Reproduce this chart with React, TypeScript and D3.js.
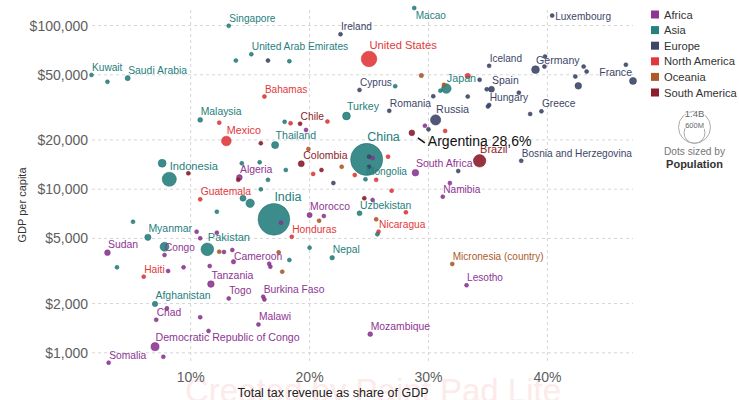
import { useRef, useEffect } from 'react'
import * as d3 from 'd3'

const font = '"Liberation Sans", Arial, Helvetica, sans-serif'

const continents = ['Africa', 'Asia', 'Europe', 'North America', 'Oceania', 'South America']
const continentColors = ['#8e3593', '#26807d', '#3d4668', '#e2383a', '#ad5a2a', '#8e1c2b']

// [country, tax revenue (% of GDP), GDP per capita ($), population (millions)]
// empty name = dot without a label
const africa: [string, number, number, number][] = [
  ['Sudan', 3.0, 4090, 44],
  ['Somalia', 3.1, 870, 16],
  ['Democratic Republic of Congo', 7.0, 1090, 90],
  ['', 7.7, 945, 5],
  ['Chad', 7.1, 1590, 16],
  ['', 8.0, 1870, 5],
  ['Congo', 7.8, 3960, 5.5],
  ['', 8.1, 3160, 5],
  ['', 9.4, 3330, 5],
  ['', 10.5, 5500, 5],
  ['', 10.8, 5010, 4],
  ['', 12.2, 5420, 5],
  ['', 12.8, 4130, 8],
  ['', 13.5, 4250, 20],
  ['Cameroon', 13.6, 3600, 27],
  ['', 11.6, 3390, 12],
  ['Tanzania', 11.7, 2630, 60],
  ['Togo', 13.2, 2150, 8],
  ['', 10.8, 1650, 22],
  ['', 11.5, 1360, 10],
  ['Burkina Faso', 16.1, 2200, 21],
  ['', 16.2, 2120, 10],
  ['Malawi', 15.7, 1490, 19],
  ['Mozambique', 25.1, 1300, 31],
  ['Lesotho', 33.2, 2590, 2.1],
  ['', 16.6, 3500, 5],
  ['', 16.7, 3360, 5],
  ['Morocco', 20.0, 6950, 37],
  ['', 21.2, 6850, 5],
  ['Algeria', 14.1, 11800, 44],
  ['', 25.3, 15500, 5],
  ['South Africa', 28.9, 12600, 60],
  ['Namibia', 31.2, 9000, 2.5],
  ['', 31.8, 10900, 2],
  ['', 25.3, 8590, 5],
  ['', 19.7, 23000, 1],
  ['', 29.7, 24400, 1.3],
  ['', 17.6, 6240, 5],
]

const asia: [string, number, number, number][] = [
  ['Kuwait', 1.66, 49900, 4.3],
  ['', 3.0, 45300, 5],
  ['Saudi Arabia', 4.7, 47700, 35],
  ['Singapore', 13.2, 99600, 5.7],
  ['', 13.8, 61100, 3],
  ['United Arab Emirates', 15.1, 66800, 9.9],
  ['', 18.3, 60600, 3],
  ['Macao', 28.8, 128000, 0.7],
  ['Malaysia', 10.8, 26500, 33],
  ['Thailand', 17.1, 18600, 70],
  ['', 17.9, 25800, 3],
  ['Turkey', 23.1, 28000, 84],
  ['', 27.2, 42600, 9],
  ['Japan', 31.5, 41200, 126],
  ['', 31.0, 40000, 5],
  ['China', 24.8, 15200, 1410],
  ['Mongolia', 24.7, 11500, 3.3],
  ['', 7.6, 14400, 85],
  ['Indonesia', 8.2, 11500, 274],
  ['', 14.3, 14400, 5],
  ['', 15.8, 14600, 5],
  ['', 18.0, 13100, 5],
  ['', 16.5, 11400, 5],
  ['', 15.9, 9980, 5],
  ['', 14.4, 8800, 50],
  ['', 15.0, 8200, 97],
  ['', 7.8, 4450, 110],
  ['Pakistan', 11.4, 4290, 220],
  ['Myanmar', 6.4, 5080, 54],
  ['', 5.15, 6320, 5],
  ['', 12.2, 7280, 5],
  ['', 3.8, 3330, 5],
  ['Afghanistan', 7.0, 1990, 39],
  ['Uzbekistan', 24.2, 7120, 34],
  ['', 25.7, 5300, 5],
  ['Nepal', 21.9, 3810, 29],
  ['', 20.0, 4390, 5],
  ['', 18.3, 3690, 5],
  ['India', 17.0, 6540, 1380],
]

const europe: [string, number, number, number][] = [
  ['Ireland', 22.6, 88500, 5],
  ['', 16.5, 61100, 3],
  ['Luxembourg', 40.4, 115000, 0.6],
  ['Iceland', 35.1, 56700, 0.4],
  ['Germany', 39.0, 53800, 83],
  ['', 39.8, 64600, 5],
  ['', 39.75, 56100, 5],
  ['', 43.05, 56100, 5],
  ['', 43.3, 52300, 5],
  ['', 46.6, 57600, 5],
  ['France', 47.2, 45900, 67],
  ['', 42.35, 48800, 5],
  ['', 42.6, 42800, 60],
  ['Spain', 35.3, 40800, 47],
  ['', 34.9, 40800, 5],
  ['', 37.6, 38900, 5],
  ['Hungary', 35.1, 32700, 9.7],
  ['', 35.0, 32000, 5],
  ['Greece', 39.5, 29900, 10.7],
  ['', 38.55, 28800, 5],
  ['', 34.3, 46600, 5],
  ['', 30.4, 37000, 5],
  ['', 33.3, 36800, 5],
  ['Cyprus', 24.2, 40400, 1.2],
  ['Romania', 26.7, 30100, 19],
  ['Russia', 30.6, 26500, 145],
  ['', 30.0, 23200, 5],
  ['', 32.5, 12900, 5],
  ['Bosnia and Herzegovina', 37.8, 14900, 3.3],
  ['', 22.0, 10900, 5],
  ['', 25.0, 15800, 5],
  ['', 25.0, 13700, 5],
]

const northAmerica: [string, number, number, number][] = [
  ['United States', 25.0, 62500, 331],
  ['Bahamas', 16.2, 36800, 0.4],
  ['', 12.4, 25500, 4],
  ['Mexico', 13.0, 19700, 128],
  ['', 18.4, 25300, 5],
  ['', 21.5, 25900, 5],
  ['', 33.3, 49200, 38],
  ['', 31.4, 22700, 5],
  ['', 28.1, 7220, 5],
  ['', 26.6, 15800, 5],
  ['', 23.8, 12200, 5],
  ['', 25.6, 11400, 5],
  ['', 20.3, 12400, 5],
  ['', 26.9, 9790, 5],
  ['Guatemala', 10.8, 8670, 17],
  ['Honduras', 18.5, 5120, 10],
  ['Nicaragua', 25.8, 5500, 6.6],
  ['Haiti', 6.05, 2920, 11],
]

const oceania: [string, number, number, number][] = [
  ['', 29.4, 49500, 26],
  ['', 31.3, 43400, 5],
  ['', 19.9, 17600, 1],
  ['', 22.7, 13700, 1],
  ['', 20.8, 6410, 1],
  ['', 25.6, 6540, 1],
  ['', 12.4, 4150, 1],
  ['', 17.4, 4110, 1],
  ['', 17.7, 3130, 1],
  ['Micronesia (country)', 32.0, 3490, 0.1],
]

const southAmerica: [string, number, number, number][] = [
  ['Chile', 19.2, 25100, 19],
  ['Argentina', 28.6, 22100, 45],
  ['', 15.9, 19100, 5],
  ['Colombia', 19.3, 14300, 51],
  ['', 21.0, 13100, 5],
  ['Brazil', 34.3, 14900, 213],
  ['', 14.0, 11400, 5],
  ['', 9.8, 12500, 3],
  ['', 24.6, 8800, 5],
]

const seriesByContinent = [africa, asia, europe, northAmerica, oceania, southAmerica]

const xTicks = [10, 20, 30, 40]
const yTicks = [1000, 2000, 5000, 10000, 20000, 50000, 100000]

const highlighted = 'Argentina'
const highlightText = 'Argentina 28,6%'

// label tweaks: [dx, dy, anchor]
const labelNudges: Record<string, [number, number, string]> = {
  Macao: [1, 14.5, 'start'],
  Luxembourg: [2.5, 8.3, 'start'],
  France: [-1.5, 1, 'end'],
  Cameroon: [0, 2.5, 'start'],
  Colombia: [1.5, 0, 'start'],
}

function Chart() {
  const chartRef = useRef<HTMLDivElement>(null)

  function renderChart(container: HTMLDivElement | null) {
    if (container === null) {
      return
    }
    const width = 739
    const height = 400
    container.innerHTML = ''

    const svg = d3.select(container).append('svg')
      .attr('width', width)
      .attr('height', height)
      .style('position', 'absolute')
      .style('left', '0px')
      .style('top', '0px')
      .style('font-family', font)

    const x = d3.scaleLinear().domain([1.7, 47.2]).range([92, 633])
    const y = d3.scaleLog().domain([870, 128000]).range([362.7, 8])
    const rScale = d3.scaleSqrt().domain([0, 1400]).range([0, 16])
    const radius = (p: number) => Math.max(2, rScale(p))

    // faint watermark behind everything
    svg.append('text')
      .attr('x', 185)
      .attr('y', 402)
      .attr('font-size', 33)
      .attr('fill', '#fdeaea')
      .text('Created by Paint Pad Lite')

    // grid
    svg.append('g').selectAll('line')
      .data(yTicks)
      .join('line')
      .attr('x1', 92).attr('x2', 633)
      .attr('y1', d => y(d)).attr('y2', d => y(d))
      .attr('stroke', '#d6d6d6')
      .attr('stroke-dasharray', '3,3')
    svg.append('g').selectAll('line')
      .data(xTicks)
      .join('line')
      .attr('x1', d => x(d)).attr('x2', d => x(d))
      .attr('y1', 10).attr('y2', 362)
      .attr('stroke', '#d6d6d6')
      .attr('stroke-dasharray', '3,3')

    // tick labels
    svg.append('g').selectAll('text')
      .data(yTicks)
      .join('text')
      .attr('x', 88)
      .attr('y', d => y(d))
      .attr('dy', '0.36em')
      .attr('text-anchor', 'end')
      .attr('font-size', 14)
      .attr('fill', '#5e5e5e')
      .text(d => d3.format('$,')(d))
    svg.append('g').selectAll('text')
      .data(xTicks)
      .join('text')
      .attr('x', d => x(d))
      .attr('y', 381.5)
      .attr('text-anchor', 'middle')
      .attr('font-size', 14)
      .attr('fill', '#5e5e5e')
      .text(d => d + '%')

    svg.append('text')
      .attr('transform', 'translate(26,205) rotate(-90)')
      .attr('text-anchor', 'middle')
      .attr('font-size', 11)
      .attr('fill', '#333')
      .text('GDP per capita')
    svg.append('text')
      .attr('x', 333)
      .attr('y', 397)
      .attr('text-anchor', 'middle')
      .attr('font-size', 12.5)
      .attr('fill', '#222')
      .text('Total tax revenue as share of GDP')

    const points = seriesByContinent.flatMap((rows, i) => rows.map(d => ({
      name: d[0], tax: d[1], gdp: d[2], pop: d[3], color: continentColors[i]
    })))
    points.sort((a, b) => b.pop - a.pop)

    svg.append('g').selectAll('circle')
      .data(points)
      .join('circle')
      .attr('cx', d => x(d.tax))
      .attr('cy', d => y(d.gdp))
      .attr('r', d => radius(d.pop))
      .attr('fill', d => d.color)
      .attr('fill-opacity', 0.9)
      .attr('stroke', d => d3.color(d.color)!.darker(0.4).formatHex())
      .attr('stroke-width', 0.5)

    const labelled = points.filter(d => d.name !== '' && d.name !== highlighted)
    svg.append('g').selectAll('text')
      .data(labelled)
      .join('text')
      .attr('x', d => x(d.tax) + 0.5 + (labelNudges[d.name] ? labelNudges[d.name][0] : 0))
      .attr('y', d => y(d.gdp) - radius(d.pop) - 2 + (labelNudges[d.name] ? labelNudges[d.name][1] : 0))
      .attr('text-anchor', d => labelNudges[d.name] ? labelNudges[d.name][2] : 'start')
      .attr('font-size', d => 10 + 2.5 * Math.sqrt(d.pop / 1400))
      .attr('fill', d => d.color)
      .text(d => d.name)

    // highlighted country annotation
    const arg = points.find(d => d.name === highlighted)!
    const ax = x(arg.tax)
    const ay = y(arg.gdp)
    svg.append('line')
      .attr('x1', ax + 6).attr('y1', ay + 5)
      .attr('x2', ax + 13).attr('y2', ay + 10)
      .attr('stroke', '#111')
      .attr('stroke-width', 1.5)
    svg.append('text')
      .attr('x', ax + 16)
      .attr('y', ay + 12.8)
      .attr('font-size', 14)
      .attr('fill', '#111')
      .text(highlightText)

    // continent legend
    const legend = svg.append('g').attr('transform', 'translate(651,0)')
    legend.selectAll('rect')
      .data(continents)
      .join('rect')
      .attr('x', 0)
      .attr('y', (d, i) => 10.5 + i * 15.6)
      .attr('width', 8)
      .attr('height', 8)
      .attr('fill', (d, i) => continentColors[i])
    legend.selectAll('text')
      .data(continents)
      .join('text')
      .attr('x', 13)
      .attr('y', (d, i) => 14.5 + i * 15.6)
      .attr('dy', '0.36em')
      .attr('font-size', 11.2)
      .attr('fill', '#333')
      .text(d => d)

    // size legend
    const sizes = [1400, 600]
    const sizeLabels = ['1.4B', '600M']
    const base = 143.3
    const sl = svg.append('g').attr('transform', 'translate(694.5,0)')
    sl.selectAll('circle')
      .data(sizes)
      .join('circle')
      .attr('cx', 0)
      .attr('cy', d => base - rScale(d))
      .attr('r', d => rScale(d))
      .attr('fill', 'none')
      .attr('stroke', '#aaa')
      .attr('stroke-width', 1)
    sl.selectAll('text')
      .data(sizes)
      .join('text')
      .attr('x', 0)
      .attr('y', (d, i) => base - 2 * rScale(d) + (i === 0 ? 6 : 5.5))
      .attr('text-anchor', 'middle')
      .attr('font-size', (d, i) => i === 0 ? 9.5 : 7.5)
      .attr('fill', '#666')
      .attr('stroke', '#fff')
      .attr('stroke-width', 2)
      .attr('paint-order', 'stroke')
      .text((d, i) => sizeLabels[i])
    sl.append('text')
      .attr('y', 155)
      .attr('text-anchor', 'middle')
      .attr('font-size', 10.2)
      .attr('fill', '#777')
      .text('Dots sized by')
    sl.append('text')
      .attr('y', 168)
      .attr('text-anchor', 'middle')
      .attr('font-size', 11)
      .attr('font-weight', 'bold')
      .attr('fill', '#333')
      .text('Population')
  }

  useEffect(() => {
    renderChart(chartRef.current)
  })

  return (
    <div ref={chartRef}></div>
  )
}

export default function App() {
  return <Chart />
}
